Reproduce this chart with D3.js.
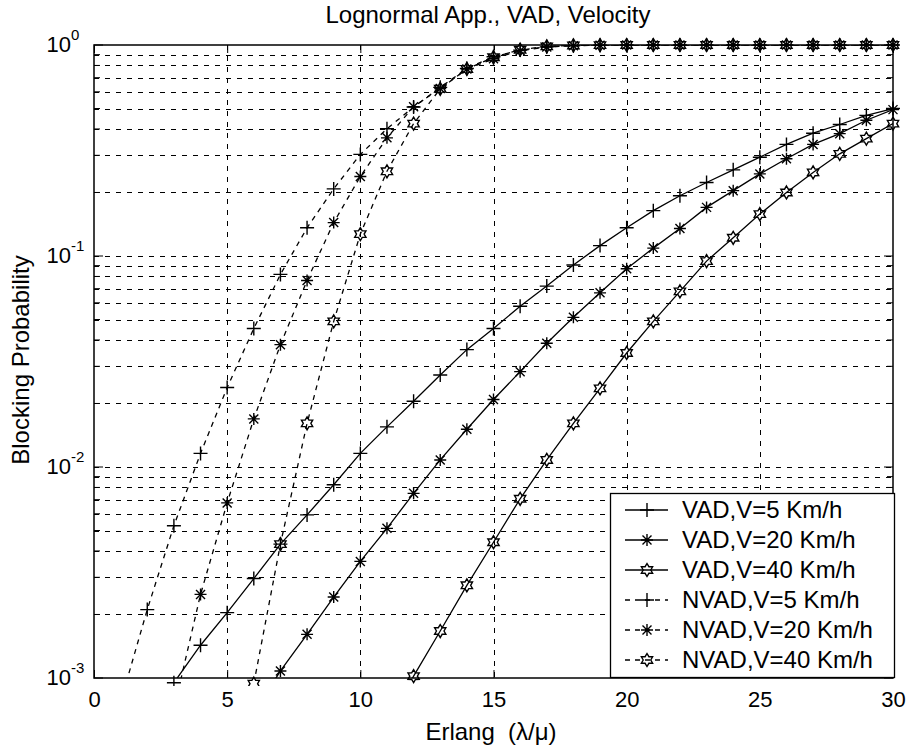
<!DOCTYPE html>
<html>
<head>
<meta charset="utf-8">
<script src="https://cdnjs.cloudflare.com/ajax/libs/d3/7.8.5/d3.min.js"></script>
<style>
  body { margin: 0; background: #fff; }
  text { font-family: "Liberation Sans", Arial, sans-serif; fill: #000; }
</style>
</head>
<body>
<div id="chart"></div>
<script>
// data, one value per Erlang step (null = not plotted)
const erlang = [1, 2, 3, 4, 5, 6, 7, 8, 9, 10, 11, 12, 13, 14, 15, 16, 17, 18, 19, 20, 21, 22, 23, 24, 25, 26, 27, 28, 29, 30];

const vad5 = [null, null, 0.00095, 0.00143, 0.00204, 0.00296, 0.00431, 0.00593, 0.00824, 0.0116,
  0.0155, 0.0205, 0.0273, 0.036, 0.0453, 0.0578, 0.072, 0.0906, 0.112, 0.136,
  0.164, 0.193, 0.223, 0.256, 0.294, 0.338, 0.382, 0.42, 0.464, 0.50];
const vad20 = [null, null, null, null, null, 0.00068, 0.00108, 0.00161, 0.00242, 0.00357,
  0.00512, 0.0075, 0.0108, 0.0151, 0.0209, 0.0283, 0.0386, 0.0512, 0.0669, 0.087,
  0.109, 0.135, 0.170, 0.204, 0.245, 0.289, 0.338, 0.38, 0.44, 0.494];
const vad40 = [null, null, null, null, null, null, null, null, null, null,
  0.0006, 0.00102, 0.00167, 0.00275, 0.0044, 0.00707, 0.0108, 0.0161, 0.0236, 0.0347,
  0.049, 0.068, 0.0946, 0.122, 0.158, 0.2, 0.249, 0.305, 0.36, 0.424];
const nvad5 = [0.00077, 0.00211, 0.00527, 0.0116, 0.0238, 0.0453, 0.0818, 0.136, 0.208, 0.303,
  0.401, 0.508, 0.63, 0.774, 0.88, 0.946, 0.98, 0.993, 0.998, 1,
  1, 1, 1, 1, 1, 1, 1, 1, 1, 1];
const nvad20 = [null, null, 0.00071, 0.00249, 0.00676, 0.0169, 0.038, 0.0766, 0.144, 0.238,
  0.363, 0.51, 0.622, 0.77, 0.86, 0.94, 0.978, 0.992, 0.997, 1,
  1, 1, 1, 1, 1, 1, 1, 1, 1, 1];
const nvad40 = [null, null, null, null, null, 0.00094, 0.00431, 0.0161, 0.049, 0.127,
  0.252, 0.424, 0.62, 0.77, 0.875, 0.95, 0.985, 0.995, 0.999, 1,
  1, 1, 1, 1, 1, 1, 1, 1, 1, 1];

const seriesNames = ["VAD,V=5 Km/h", "VAD,V=20 Km/h", "VAD,V=40 Km/h",
                     "NVAD,V=5 Km/h", "NVAD,V=20 Km/h", "NVAD,V=40 Km/h"];
const seriesValues = [vad5, vad20, vad40, nvad5, nvad20, nvad40];
const seriesMarkers = ["plus", "star", "hex", "plus", "star", "hex"];
const seriesDashed = [false, false, false, true, true, true];

const xTicks = [0, 5, 10, 15, 20, 25, 30];
const yDecades = [-3, -2, -1, 0];

const width = 913;
const height = 750;
const margin = { top: 45, right: 20, bottom: 72, left: 94 };
const x0 = margin.left, x1 = width - margin.right;
const y0 = margin.top, y1 = height - margin.bottom;

const svg = d3.select("#chart").append("svg")
  .attr("width", width)
  .attr("height", height);

const x = d3.scaleLinear().domain([0, 30]).range([x0, x1]);
const y = d3.scaleLog().domain([1e-3, 1]).range([y1, y0]);

// all log tick values: decades plus 2..9 inside each decade
const yMinor = [];
yDecades.slice(0, -1).forEach(p => {
  for (let k = 2; k <= 9; k++) yMinor.push(k * Math.pow(10, p));
});
const yMajor = yDecades.map(p => Math.pow(10, p));

svg.append("defs").append("clipPath").attr("id", "plotClip")
  .append("rect").attr("x", x0).attr("y", y0).attr("width", x1 - x0).attr("height", y1 - y0);
svg.select("defs").append("clipPath").attr("id", "markClip")
  .append("rect").attr("x", x0 - 10).attr("y", y0 - 10).attr("width", x1 - x0 + 20).attr("height", y1 - y0 + 18);

// grid
const grid = svg.append("g")
  .attr("stroke", "#000")
  .attr("stroke-width", 1)
  .attr("stroke-dasharray", "5,6");

grid.selectAll("line.h")
  .data(yMinor.concat(yMajor.slice(1, -1)))
  .enter().append("line")
  .attr("x1", x0).attr("x2", x1)
  .attr("y1", d => Math.round(y(d)) + 0.5)
  .attr("y2", d => Math.round(y(d)) + 0.5);

grid.selectAll("line.v")
  .data(xTicks.slice(1, -1))
  .enter().append("line")
  .attr("y1", y0).attr("y2", y1)
  .attr("x1", d => Math.round(x(d)) + 0.5)
  .attr("x2", d => Math.round(x(d)) + 0.5);

// axes: inward ticks on all four sides
svg.append("g")
  .attr("transform", `translate(0, ${y1})`)
  .call(d3.axisBottom(x).tickValues(xTicks).tickSizeInner(-8).tickSizeOuter(0).tickPadding(13))
  .call(g => g.select(".domain").remove())
  .call(g => g.selectAll("text").attr("font-size", 22).attr("font-family", "Liberation Sans, Arial, sans-serif"));

svg.append("g")
  .attr("transform", `translate(0, ${y0})`)
  .call(d3.axisTop(x).tickValues(xTicks).tickSizeInner(-8).tickSizeOuter(0).tickFormat(""))
  .call(g => g.select(".domain").remove());

[["left", x0, 1], ["right", x1, -1]].forEach(([side, xp, dir]) => {
  const g = svg.append("g").attr("stroke", "#000").attr("stroke-width", 1);
  g.selectAll("line.major").data(yMajor).enter().append("line")
    .attr("x1", xp).attr("x2", xp + dir * 9)
    .attr("y1", d => y(d)).attr("y2", d => y(d));
  g.selectAll("line.minor").data(yMinor).enter().append("line")
    .attr("x1", xp).attr("x2", xp + dir * 6)
    .attr("y1", d => y(d)).attr("y2", d => y(d));
});

// y tick labels as 10^p
const yLab = svg.append("g");
yDecades.forEach(p => {
  const yy = y(Math.pow(10, p));
  yLab.append("text")
    .attr("x", 71).attr("y", yy + 7)
    .attr("text-anchor", "end")
    .attr("font-size", 22)
    .text("10");
  yLab.append("text")
    .attr("x", 71).attr("y", yy - 5)
    .attr("font-size", 15)
    .text(String(p));
});

// box
svg.append("rect")
  .attr("x", x0).attr("y", y0)
  .attr("width", x1 - x0).attr("height", y1 - y0)
  .attr("fill", "none")
  .attr("stroke", "#000")
  .attr("stroke-width", 1.5);

// markers
function markerPath(type) {
  if (type === "plus") return "M-7,0H7M0,-7V7";
  if (type === "star") return "M-6,0H6M0,-6V6M-4.5,-4.5L4.5,4.5M-4.5,4.5L4.5,-4.5";
  // hexagram
  let d = "";
  for (let i = 0; i < 12; i++) {
    const r = i % 2 === 0 ? 6.5 : 3.8;
    const a = -Math.PI / 2 + i * Math.PI / 6;
    d += (i === 0 ? "M" : "L") + (r * Math.cos(a)).toFixed(2) + "," + (r * Math.sin(a)).toFixed(2);
  }
  return d + "Z";
}

const line = d3.line()
  .defined(d => d.v !== null)
  .x(d => x(d.e))
  .y(d => y(d.v));

seriesValues.forEach((vals, i) => {
  const pts = erlang.map((e, j) => ({ e: e, v: vals[j] }));
  svg.append("path")
    .datum(pts)
    .attr("clip-path", "url(#plotClip)")
    .attr("fill", "none")
    .attr("stroke", "#000")
    .attr("stroke-width", 1.3)
    .attr("stroke-dasharray", seriesDashed[i] ? "5,5" : null)
    .attr("d", line);

  svg.append("g")
    .attr("clip-path", "url(#markClip)")
    .selectAll("path")
    .data(pts.filter(d => d.v !== null))
    .enter().append("path")
    .attr("transform", d => `translate(${x(d.e)},${y(d.v)})`)
    .attr("d", markerPath(seriesMarkers[i]))
    .attr("fill", "none")
    .attr("stroke", "#000")
    .attr("stroke-width", 1.4);
});

// legend
const lg = svg.append("g");
lg.append("rect")
  .attr("x", 610.5).attr("y", 493.5)
  .attr("width", 284).attr("height", 184)
  .attr("fill", "#fff")
  .attr("stroke", "#000")
  .attr("stroke-width", 1.3);

seriesNames.forEach((name, i) => {
  const cy = 510 + i * 30;
  lg.append("line")
    .attr("x1", 625).attr("x2", 668)
    .attr("y1", cy).attr("y2", cy)
    .attr("stroke", "#000")
    .attr("stroke-width", 1.3)
    .attr("stroke-dasharray", seriesDashed[i] ? "5,5" : null);
  lg.append("path")
    .attr("transform", `translate(647,${cy})`)
    .attr("d", markerPath(seriesMarkers[i]))
    .attr("fill", "none")
    .attr("stroke", "#000")
    .attr("stroke-width", 1.4);
  lg.append("text")
    .attr("x", 682).attr("y", cy + 8)
    .attr("font-size", 24)
    .text(name);
});

// titles
svg.append("text")
  .attr("x", 488).attr("y", 23)
  .attr("text-anchor", "middle")
  .attr("font-size", 24)
  .text("Lognormal App., VAD, Velocity");

svg.append("text")
  .attr("x", 491).attr("y", 740)
  .attr("text-anchor", "middle")
  .attr("font-size", 24)
  .text("Erlang\u00a0\u00a0(\u03bb/\u03bc)");

svg.append("text")
  .attr("transform", "translate(29, 360) rotate(-90)")
  .attr("text-anchor", "middle")
  .attr("font-size", 24)
  .text("Blocking Probability");
</script>
</body>
</html>
